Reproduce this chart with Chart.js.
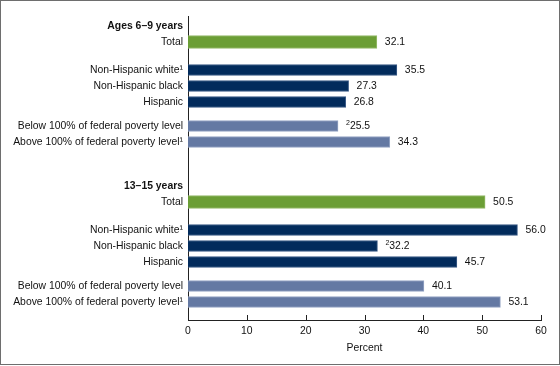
<!DOCTYPE html>
<html>
<head>
<meta charset="utf-8">
<script src="https://cdn.jsdelivr.net/npm/chart.js@4.4.1/dist/chart.umd.min.js"></script>
<style>
  html, body { margin: 0; padding: 0; background: #fff; }
  #wrap { width: 560px; height: 366px; position: relative; }
</style>
</head>
<body>
<div id="wrap"><canvas id="c" width="560" height="366"></canvas></div>
<script>
// ---- Data ----
const groupTitles = ['Ages 6\u20139 years', '13\u201315 years'];
const totalLabel = 'Total';
const totalValues = [32.1, 50.5];
const raceCategories = ['Non-Hispanic white\u00B9', 'Non-Hispanic black', 'Hispanic'];
const raceValues6to9 = [35.5, 27.3, 26.8];
const raceValues13to15 = [56.0, 32.2, 45.7];
const povertyCategories = ['Below 100% of federal poverty level', 'Above 100% of federal poverty level\u00B9'];
const povertyValues6to9 = [25.5, 34.3];
const povertyValues13to15 = [40.1, 53.1];
// footnote marks shown before the value label
const raceNotes6to9 = ['', '', ''];
const raceNotes13to15 = ['', '2', ''];
const povertyNotes6to9 = ['2', ''];
const povertyNotes13to15 = ['', ''];
const xTickValues = [0, 10, 20, 30, 40, 50, 60];
const axisTitle = 'Percent';

// ---- Layout (row slots on the category axis) ----
const SLOTS = 76;
const groupStart = [2, 42];
const totalOffset = 4;
const raceOffsets = [11, 15, 19];
const povertyOffsets = [25, 29];

const labels = new Array(SLOTS).fill('');
const totalData = new Array(SLOTS).fill(null);
const raceData = new Array(SLOTS).fill(null);
const povertyData = new Array(SLOTS).fill(null);
const notes = {};
const headerIdx = new Set();
const raceVals = [raceValues6to9, raceValues13to15];
const povVals = [povertyValues6to9, povertyValues13to15];
const raceN = [raceNotes6to9, raceNotes13to15];
const povN = [povertyNotes6to9, povertyNotes13to15];
groupStart.forEach((g, gi) => {
  labels[g] = groupTitles[gi];
  headerIdx.add(g);
  labels[g + totalOffset] = totalLabel;
  totalData[g + totalOffset] = totalValues[gi];
  raceCategories.forEach((c, i) => {
    const k = g + raceOffsets[i];
    labels[k] = c; raceData[k] = raceVals[gi][i]; notes[k] = raceN[gi][i];
  });
  povertyCategories.forEach((c, i) => {
    const k = g + povertyOffsets[i];
    labels[k] = c; povertyData[k] = povVals[gi][i]; notes[k] = povN[gi][i];
  });
});

const FONT = '"Liberation Sans", Arial, sans-serif';
const FS = 10.4;
const TXT = '#111';

const valueLabels = {
  id: 'valueLabels',
  afterDatasetsDraw(chart) {
    const ctx = chart.ctx;
    ctx.save();
    ctx.fillStyle = TXT;
    ctx.textBaseline = 'middle';
    ctx.textAlign = 'left';
    chart.data.datasets.forEach((ds, di) => {
      const meta = chart.getDatasetMeta(di);
      meta.data.forEach((el, i) => {
        const v = ds.data[i];
        if (v === null || v === undefined) return;
        let x = el.x + 8;
        const y = el.y + 0.5;
        const note = notes[i];
        if (note) {
          ctx.font = '7px ' + FONT;
          ctx.fillText(note, x, y - 3);
          x += ctx.measureText(note).width;
        }
        ctx.font = FS + 'px ' + FONT;
        ctx.fillText(v.toFixed(1), x, y);
      });
    });
    ctx.restore();
  }
};

const axisDecor = {
  id: 'axisDecor',
  afterDraw(chart) {
    const ctx = chart.ctx;
    const xs = chart.scales.x;
    const a = chart.chartArea;
    ctx.save();
    ctx.strokeStyle = '#222';
    ctx.lineWidth = 1;
    xs.ticks.forEach(t => {
      const px = Math.round(xs.getPixelForValue(t.value)) + 0.5;
      ctx.beginPath();
      ctx.moveTo(px, a.bottom);
      ctx.lineTo(px, a.bottom - 5);
      ctx.stroke();
    });
    ctx.strokeStyle = '#6e6e6e';
    ctx.strokeRect(0.5, 0.5, chart.width - 1, chart.height - 2);
    ctx.restore();
  }
};

new Chart(document.getElementById('c'), {
  type: 'bar',
  data: {
    labels: labels,
    datasets: [
      { label: 'Total', data: totalData, backgroundColor: '#6b9e35', borderColor: '#95bb6a', borderWidth: 1, borderSkipped: 'start', barThickness: 13, grouped: false },
      { label: 'Race and Hispanic origin', data: raceData, backgroundColor: '#022b5c', borderColor: '#3a5a86', borderWidth: 1, borderSkipped: 'start', barThickness: 11, grouped: false },
      { label: 'Poverty status', data: povertyData, backgroundColor: '#6479a3', borderColor: '#95a5c4', borderWidth: 1, borderSkipped: 'start', barThickness: 11, grouped: false }
    ]
  },
  options: {
    indexAxis: 'y',
    responsive: false,
    animation: false,
    devicePixelRatio: 1,
    layout: { padding: { top: 16, right: 19, left: 0, bottom: 0 } },
    plugins: { legend: { display: false }, tooltip: { enabled: false } },
    scales: {
      x: {
        type: 'linear',
        min: 0, max: 60,
        afterBuildTicks(scale) { scale.ticks = xTickValues.map(v => ({ value: v })); },
        afterFit(scale) { scale.height = 46; },
        grid: { display: false, drawTicks: false },
        border: { display: true, color: '#222', width: 1 },
        ticks: { color: TXT, font: { family: FONT, size: FS }, padding: 5, maxRotation: 0 },
        title: { display: true, text: axisTitle, color: TXT, font: { family: FONT, size: FS }, padding: { top: 0, bottom: 12 } }
      },
      y: {
        type: 'category',
        afterFit(scale) { scale.width = 188; },
        grid: { display: false, drawTicks: false },
        border: { display: true, color: '#222', width: 1 },
        ticks: {
          autoSkip: false,
          color: TXT,
          padding: 5,
          font: (c) => ({ family: FONT, size: FS, weight: headerIdx.has(c.index) ? 'bold' : 'normal' })
        }
      }
    }
  },
  plugins: [valueLabels, axisDecor]
});
</script>
</body>
</html>
